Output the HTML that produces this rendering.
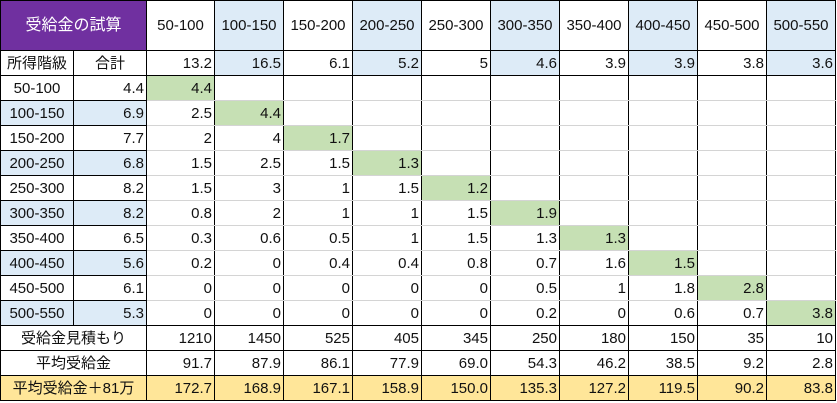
<!DOCTYPE html>
<html><head><meta charset="utf-8"><style>
body{margin:0;background:#fff;}
table{border-collapse:collapse;table-layout:fixed;position:absolute;left:0;top:0;font-family:"Liberation Sans","Noto Sans CJK JP",sans-serif;font-size:15px;color:#111;}
td{border:1px solid #000;padding:0 2px;height:24px;text-align:right;white-space:nowrap;overflow:hidden;line-height:15px}
tr.h td{height:49px;text-align:center;}
td.c{text-align:center}
td.p{background:#7030A0;color:#fff;font-size:16px}
.b{background:#DDEBF7}
.g{background:#C6E0B4}
.y{background:#FFE699}
tr.m td.d{border-top:1px solid #d4d4d4;border-bottom:1px solid #d4d4d4}
</style></head><body>
<table>
<colgroup><col style="width:73px"><col style="width:73px"><col style="width:68px"><col style="width:69px"><col style="width:69px"><col style="width:69px"><col style="width:69px"><col style="width:69px"><col style="width:69px"><col style="width:69px"><col style="width:69px"><col style="width:69px"></colgroup>
<tr class="h"><td class="p" colspan="2">受給金の試算</td><td>50-100</td><td class="b">100-150</td><td>150-200</td><td class="b">200-250</td><td>250-300</td><td class="b">300-350</td><td>350-400</td><td class="b">400-450</td><td>450-500</td><td class="b">500-550</td></tr>
<tr><td class="c">所得階級</td><td class="c">合計</td><td>13.2</td><td class="b">16.5</td><td>6.1</td><td class="b">5.2</td><td>5</td><td class="b">4.6</td><td>3.9</td><td class="b">3.9</td><td>3.8</td><td class="b">3.6</td></tr>
<tr class="m"><td class="c">50-100</td><td>4.4</td><td class="d g">4.4</td><td class="d"></td><td class="d"></td><td class="d"></td><td class="d"></td><td class="d"></td><td class="d"></td><td class="d"></td><td class="d"></td><td class="d"></td></tr>
<tr class="m"><td class="c b">100-150</td><td class="b">6.9</td><td class="d">2.5</td><td class="d g">4.4</td><td class="d"></td><td class="d"></td><td class="d"></td><td class="d"></td><td class="d"></td><td class="d"></td><td class="d"></td><td class="d"></td></tr>
<tr class="m"><td class="c">150-200</td><td>7.7</td><td class="d">2</td><td class="d">4</td><td class="d g">1.7</td><td class="d"></td><td class="d"></td><td class="d"></td><td class="d"></td><td class="d"></td><td class="d"></td><td class="d"></td></tr>
<tr class="m"><td class="c b">200-250</td><td class="b">6.8</td><td class="d">1.5</td><td class="d">2.5</td><td class="d">1.5</td><td class="d g">1.3</td><td class="d"></td><td class="d"></td><td class="d"></td><td class="d"></td><td class="d"></td><td class="d"></td></tr>
<tr class="m"><td class="c">250-300</td><td>8.2</td><td class="d">1.5</td><td class="d">3</td><td class="d">1</td><td class="d">1.5</td><td class="d g">1.2</td><td class="d"></td><td class="d"></td><td class="d"></td><td class="d"></td><td class="d"></td></tr>
<tr class="m"><td class="c b">300-350</td><td class="b">8.2</td><td class="d">0.8</td><td class="d">2</td><td class="d">1</td><td class="d">1</td><td class="d">1.5</td><td class="d g">1.9</td><td class="d"></td><td class="d"></td><td class="d"></td><td class="d"></td></tr>
<tr class="m"><td class="c">350-400</td><td>6.5</td><td class="d">0.3</td><td class="d">0.6</td><td class="d">0.5</td><td class="d">1</td><td class="d">1.5</td><td class="d">1.3</td><td class="d g">1.3</td><td class="d"></td><td class="d"></td><td class="d"></td></tr>
<tr class="m"><td class="c b">400-450</td><td class="b">5.6</td><td class="d">0.2</td><td class="d">0</td><td class="d">0.4</td><td class="d">0.4</td><td class="d">0.8</td><td class="d">0.7</td><td class="d">1.6</td><td class="d g">1.5</td><td class="d"></td><td class="d"></td></tr>
<tr class="m"><td class="c">450-500</td><td>6.1</td><td class="d">0</td><td class="d">0</td><td class="d">0</td><td class="d">0</td><td class="d">0</td><td class="d">0.5</td><td class="d">1</td><td class="d">1.8</td><td class="d g">2.8</td><td class="d"></td></tr>
<tr class="m"><td class="c b">500-550</td><td class="b">5.3</td><td class="d" style="border-bottom-color:#000">0</td><td class="d" style="border-bottom-color:#000">0</td><td class="d" style="border-bottom-color:#000">0</td><td class="d" style="border-bottom-color:#000">0</td><td class="d" style="border-bottom-color:#000">0</td><td class="d" style="border-bottom-color:#000">0.2</td><td class="d" style="border-bottom-color:#000">0</td><td class="d" style="border-bottom-color:#000">0.6</td><td class="d" style="border-bottom-color:#000">0.7</td><td class="d g" style="border-bottom-color:#000">3.8</td></tr>
<tr><td class="c" colspan="2">受給金見積もり</td><td>1210</td><td>1450</td><td>525</td><td>405</td><td>345</td><td>250</td><td>180</td><td>150</td><td>35</td><td>10</td></tr>
<tr><td class="c" colspan="2">平均受給金</td><td>91.7</td><td>87.9</td><td>86.1</td><td>77.9</td><td>69.0</td><td>54.3</td><td>46.2</td><td>38.5</td><td>9.2</td><td>2.8</td></tr>
<tr class="y"><td class="c y" colspan="2">平均受給金＋81万</td><td>172.7</td><td>168.9</td><td>167.1</td><td>158.9</td><td>150.0</td><td>135.3</td><td>127.2</td><td>119.5</td><td>90.2</td><td>83.8</td></tr>
</table>
</body></html>
